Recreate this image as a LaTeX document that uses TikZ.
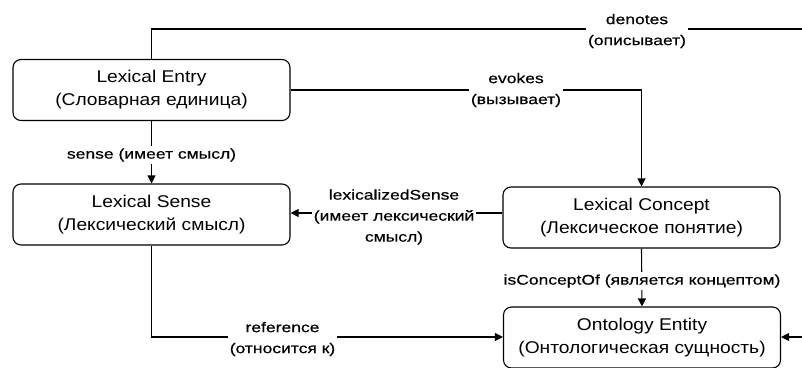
\documentclass[tikz,border=0pt]{standalone}
\usepackage{fontspec}
\setmainfont{Liberation Sans}
\newfontfamily\boxfont[FakeStretch=1.13]{Liberation Sans}
\newfontfamily\lblfont[FakeStretch=1.25,FakeBold=0.5]{Liberation Sans}
\usetikzlibrary{arrows.meta}
\begin{document}
\begin{tikzpicture}[x=1pt,y=-1pt,
  box/.style={draw, rounded corners=8pt, line width=1.1pt, minimum width=277pt, minimum height=61pt, align=center, font=\boxfont\fontsize{17}{23}\selectfont, inner sep=0pt},
  conn/.style={draw, line width=1.1pt},
  arr/.style={conn, -{Triangle[length=8pt,width=8pt]}},
  lbl/.style={fill=white, align=center, font=\lblfont\fontsize{14}{21}\selectfont, inner sep=2pt}]
\useasboundingbox (0,0) rectangle (802,367);
\clip (0,0) rectangle (802,367);
\node[box] (le) at (151.5,90) {Lexical Entry\\(Словарная единица)};
\node[box] (ls) at (151.5,214.5) {Lexical Sense\\(Лексический смысл)};
\node[box] (lc) at (641.5,217.5) {Lexical Concept\\(Лексическое понятие)};
\node[box] (oe) at (642,337.5) {Ontology Entity\\(Онтологическая сущность)};
\coordinate (top) at (151.5,29);
\coordinate (topr) at (812,29);
\coordinate (rin) at (812,337);
\draw[conn] (le.north) -- (top) -- (topr) -- (rin);
\draw[arr] (rin) -- (oe.east |- rin);
\node[lbl] at (637,31) {denotes\\(описывает)};
\draw[arr] (le.east) -| (lc.north);
\node[lbl] at (516,90) {evokes\\(вызывает)};
\draw[arr] (le.south) -- (ls.north);
\node[lbl] at (151.5,155) {sense (имеет смысл)};
\draw[arr] (lc.west |- 0,213) -- (ls.east |- 0,213);
\node[lbl] at (394,217) {lexicalizedSense\\(имеет лексический\\смысл)};
\draw[arr] (lc.south) -- (oe.north);
\node[lbl] at (642,281) {isConceptOf (является концептом)};
\draw[arr] (ls.south) |- (oe.west |- 0,337);
\node[lbl] at (282.5,339) {reference\\(относится к)};
\end{tikzpicture}
\end{document}
